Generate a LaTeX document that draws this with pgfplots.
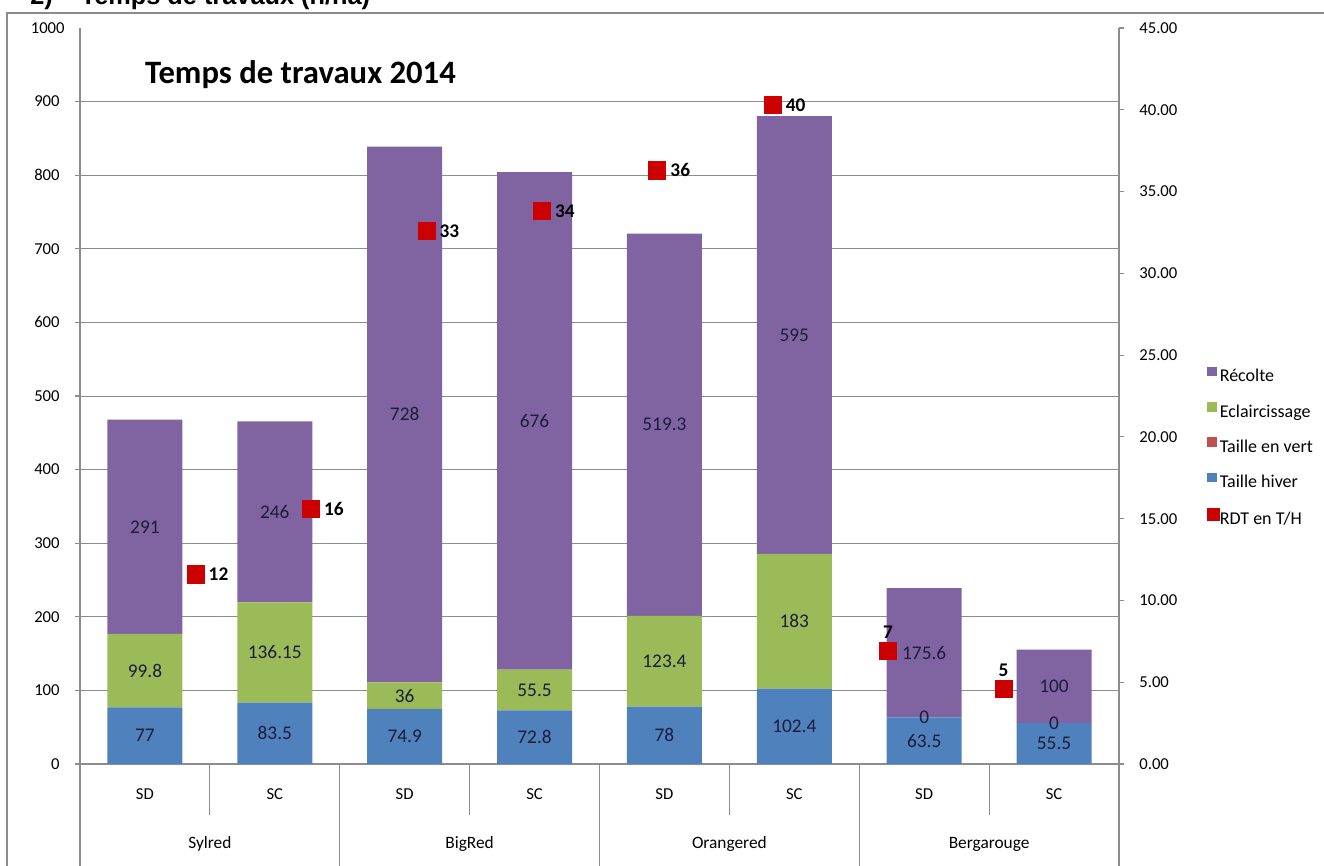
\documentclass[border=0pt]{standalone}
\usepackage{pgfplots}
\pgfplotsset{compat=1.18}
\usepackage{pgfplotstable}
\usepackage{fontspec}
\setmainfont{Carlito}
\newfontfamily\arialfont{Liberation Sans}

\definecolor{cRec}{HTML}{8064A2}
\definecolor{cEcl}{HTML}{9BBB59}
\definecolor{cVert}{HTML}{C0504D}
\definecolor{cHiv}{HTML}{4F81BD}
\definecolor{cRdt}{HTML}{CC0000}
\definecolor{cGrid}{HTML}{8C8C8C}
\definecolor{cLab}{HTML}{1C1C3C}

\pgfplotstableread{
x hiver vert ecl rec
0 77 0 99.8 291
1 83.5 0 136.15 246
2 74.9 0 36 728
3 72.8 0 55.5 676
4 78 0 123.4 519.3
5 102.4 0 183 595
6 63.5 0 0 175.6
7 55.5 0 0 100
}\travaux

\pgfplotstableread{
x rdt lab
1 11.6 12
2 15.6 16
3 32.6 33
4 33.8 34
5 36.3 36
6 40.3 40
}\rdtA
\pgfplotstableread{
x rdt lab
7 6.9 7
8 4.6 5
}\rdtB

\pgfplotsset{
  base/.style={scale only axis, width=779.25pt, height=552pt,
    at={(60pt,76.5pt)}, anchor=south west},
  tickfont/.style={font=\fontsize{12.5}{14}\selectfont},
}

\begin{document}
\begin{tikzpicture}
\useasboundingbox (0pt,0pt) rectangle (993pt,649.5pt);
\fill[white] (-5pt,-5pt) rectangle (1000pt,655pt);
\draw[cGrid, line width=0.9pt] (5.25pt,-10pt) -- (5.25pt,639.75pt) -- (1000pt,639.75pt);
\node[anchor=base west, inner sep=0, font=\arialfont\bfseries\fontsize{19}{22}\selectfont] at (22.5pt,645.75pt) {2)\hspace{1.1em}Temps de travaux (h/ha)};

% bars
\begin{axis}[base,
  ybar stacked, bar width=56.25pt,
  xmin=-0.5, xmax=7.5, ymin=0, ymax=1000,
  ytick={0,100,...,900}, extra y ticks={1000},
  extra y tick style={grid=none, major tick length=0pt},
  ymajorgrids, grid style={cGrid, line width=0.7pt},
  axis x line*=bottom, axis y line*=left,
  axis line style={-, cGrid, line width=0.8pt},
  y tick style={cGrid, line width=0.8pt},
  tick align=outside, major tick length=3.75pt,
  tickfont, /pgf/number format/assume math mode=true,
  /pgf/number format/1000 sep={},
  yticklabel style={xshift=-8pt},
  xtick={0,...,7},
  xticklabels={SD,SC,SD,SC,SD,SC,SD,SC},
  x tick style={draw=none},
  xticklabel style={anchor=center, yshift=-19pt, font=\fontsize{12.5}{14}\selectfont},
  extra x ticks={0.5,2.5,4.5,6.5},
  extra x tick labels={Sylred,BigRed,Orangered,Bergarouge},
  extra x tick style={x tick style={draw=none}, xticklabel style={anchor=center, yshift=-37.5pt, font=\fontsize{13}{15}\selectfont}},
  clip=false,
]
\addplot[fill=cHiv, draw=none] table[x=x,y=hiver]{\travaux};
\addplot[fill=cVert, draw=none] table[x=x,y=vert]{\travaux};
\addplot[fill=cEcl, draw=none] table[x=x,y=ecl]{\travaux};
\addplot[fill=cRec, draw=none] table[x=x,y=rec]{\travaux};
\pgfplotsinvokeforeach{0.5,2.5,4.5,6.5}{\draw[cGrid, line width=0.8pt] (axis cs:#1,0) -- ++(0pt,-38.25pt);}
\pgfplotsinvokeforeach{-0.5,1.5,3.5,5.5,7.5}{\draw[cGrid, line width=0.8pt] (axis cs:#1,0) -- ++(0pt,-80pt);}
\node[anchor=west, inner sep=0, font=\bfseries\fontsize{24.5}{28}\selectfont] at (axis cs:-0.0,936) {Temps de travaux 2014};
\end{axis}

% bar labels
\begin{axis}[base, hide axis,
  xmin=-0.5, xmax=7.5, ymin=0, ymax=1000,
  point meta=explicit symbolic,
  nodes near coords,
  every node near coord/.append style={anchor=center, inner sep=0pt, text=cLab, font=\fontsize{14.5}{16}\selectfont},
]
\addplot[only marks, mark=none] table[x=x, y expr=\thisrow{hiver}/2, meta=hiver]{\travaux};
\addplot[only marks, mark=none] table[x=x, y expr=\thisrow{hiver}+\thisrow{ecl}/2, meta=ecl]{\travaux};
\addplot[only marks, mark=none] table[x=x, y expr=\thisrow{hiver}+\thisrow{ecl}+\thisrow{rec}/2, meta=rec]{\travaux};
\end{axis}

% right axis: RDT
\begin{axis}[base,
  xmin=0, xmax=9, ymin=0, ymax=45,
  axis x line=none, axis y line*=right,
  axis line style={-, cGrid, line width=0.8pt},
  ytick={0,5,...,45},
  y tick style={cGrid, line width=0.8pt},
  tick align=outside, major tick length=3.75pt,
  tickfont,
  /pgf/number format/assume math mode=true,
  yticklabel style={/pgf/number format/fixed, /pgf/number format/fixed zerofill, /pgf/number format/precision=2, xshift=8pt},
  point meta=explicit symbolic,
  legend style={at={(axis description cs:1.0847,0.540)}, anchor=north west,
    draw=none, fill=none, inner sep=0pt,
    font=\fontsize{13.5}{15}\selectfont,
    nodes={inner sep=0pt, text height=9.5pt, text depth=2.5pt},
    row sep=12.75pt,
    /tikz/every even column/.append style={column sep=4pt}},
  legend cell align=left,
  clip=false,
]
\addlegendimage{legend image code/.code={\fill[cRec] (0pt,1pt) rectangle (6.5pt,7.5pt);}}
\addlegendimage{legend image code/.code={\fill[cEcl] (0pt,1pt) rectangle (6.5pt,7.5pt);}}
\addlegendimage{legend image code/.code={\fill[cVert] (0pt,1pt) rectangle (6.5pt,7.5pt);}}
\addlegendimage{legend image code/.code={\fill[cHiv] (0pt,1pt) rectangle (6.5pt,7.5pt);}}
\addplot[only marks, mark=square*, mark size=6.4pt, color=cRdt,
  nodes near coords,
  every node near coord/.append style={anchor=west, inner sep=0pt, xshift=9.75pt, text=black, font=\bfseries\fontsize{14.5}{16}\selectfont},
  legend image code/.code={\fill[cRdt] (0pt,0pt) rectangle (9pt,9pt);}]
  table[x=x, y=rdt, meta=lab]{\rdtA};
\addplot[only marks, mark=square*, mark size=6.4pt, color=cRdt, forget plot,
  nodes near coords,
  every node near coord/.append style={anchor=south, inner sep=0pt, yshift=9pt, text=black, font=\bfseries\fontsize{14.5}{16}\selectfont}]
  table[x=x, y=rdt, meta=lab]{\rdtB};
\legend{Récolte,Eclaircissage,Taille en vert,Taille hiver,RDT en T/H}
\end{axis}
\end{tikzpicture}
\end{document}
